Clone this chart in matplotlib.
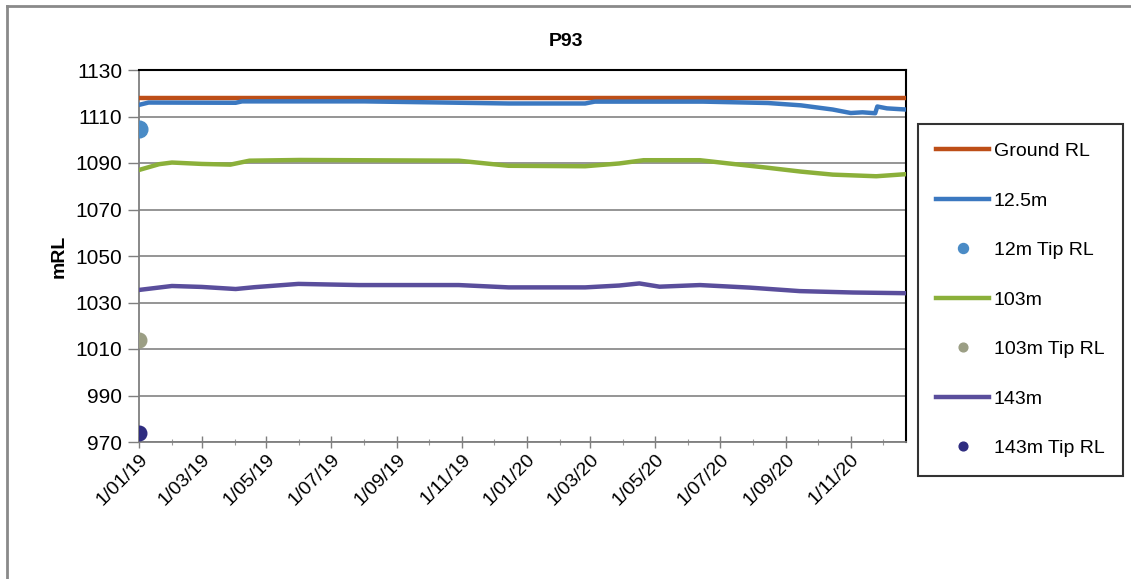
import numpy as np
import pandas as pd
import matplotlib
matplotlib.use("Agg")
import matplotlib.pyplot as plt
import matplotlib.dates as mdates
from matplotlib.lines import Line2D

plt.rcParams['font.family'] = ['Liberation Sans', 'DejaVu Sans']

# water levels (mRL) read at irregular dates
ground_dates = ["2019-01-01", "2020-12-23"]
ground_rl = [1118.0, 1118.0]

p12_dates = ["2019-01-01", "2019-01-10", "2019-04-02", "2019-04-08", "2019-08-01",
             "2019-12-15", "2020-02-25", "2020-03-05", "2020-06-15", "2020-08-15",
             "2020-09-15", "2020-10-15", "2020-11-01", "2020-11-12", "2020-11-24",
             "2020-11-26", "2020-12-05", "2020-12-23"]
p12_rl = [1115.0, 1116.0, 1115.9, 1116.5, 1116.5,
          1115.6, 1115.6, 1116.4, 1116.4, 1115.8,
          1114.8, 1113.0, 1111.5, 1111.8, 1111.4,
          1114.3, 1113.5, 1113.0]

p103_dates = ["2019-01-01", "2019-01-20", "2019-02-01", "2019-03-01", "2019-03-28",
              "2019-04-15", "2019-06-01", "2019-10-29", "2019-12-15", "2020-02-25",
              "2020-03-28", "2020-04-20", "2020-06-12", "2020-07-15", "2020-08-14",
              "2020-09-15", "2020-10-15", "2020-11-25", "2020-12-23"]
p103_rl = [1087.0, 1089.5, 1090.2, 1089.6, 1089.3,
           1091.0, 1091.3, 1091.0, 1088.8, 1088.6,
           1089.8, 1091.2, 1091.2, 1089.5, 1088.0,
           1086.3, 1085.0, 1084.3, 1085.2]

p143_dates = ["2019-01-01", "2019-02-01", "2019-03-01", "2019-04-02", "2019-04-20",
              "2019-05-31", "2019-07-27", "2019-10-29", "2019-12-15", "2020-02-25",
              "2020-03-28", "2020-04-16", "2020-05-05", "2020-06-12", "2020-07-29",
              "2020-09-14", "2020-11-03", "2020-12-23"]
p143_rl = [1035.4, 1037.1, 1036.7, 1035.8, 1036.6,
           1038.0, 1037.5, 1037.5, 1036.5, 1036.5,
           1037.3, 1038.2, 1036.8, 1037.5, 1036.4,
           1034.9, 1034.3, 1034.0]

tip_date = "2019-01-01"
tip12_rl = 1104.5
tip103_rl = 1014.0
tip143_rl = 974.0

x_start, x_end = "2019-01-01", "2020-12-23"

fig = plt.figure(figsize=(11.31, 5.79), dpi=100)
ax = fig.add_axes([139/1131, 1 - 442/579, (906-139)/1131, (442-70)/579])

td = pd.to_datetime
lw = 3.2
ax.plot(td(ground_dates), ground_rl, color='#bd4e17', lw=lw, label='Ground RL', zorder=3)
ax.plot(td(p12_dates), p12_rl, color='#3b78c0', lw=lw, label='12.5m', zorder=4)
ax.plot(td([tip_date]), [tip12_rl], 'o', color='#4a8bc6', ms=12, label='12m Tip RL', zorder=5)
ax.plot(td(p103_dates), p103_rl, color='#8bb03a', lw=lw, label='103m', zorder=4)
ax.plot(td([tip_date]), [tip103_rl], 'o', color='#9b9e84', ms=10.5, label='103m Tip RL', zorder=5)
ax.plot(td(p143_dates), p143_rl, color='#5a4e9c', lw=lw, label='143m', zorder=4)
ax.plot(td([tip_date]), [tip143_rl], 'o', color='#2e2c80', ms=10.5, label='143m Tip RL', zorder=5)

ax.set_xlim(td(x_start), td(x_end))
ax.set_ylim(970, 1130)
ax.set_yticks(np.arange(970, 1131, 20))
ax.grid(axis='y', color='#8c8c8c', lw=1.3, zorder=1)
ax.set_axisbelow(True)

ax.xaxis.set_major_locator(mdates.MonthLocator(bymonth=[1, 3, 5, 7, 9, 11]))
ax.xaxis.set_minor_locator(mdates.MonthLocator())
ax.xaxis.set_major_formatter(
    plt.FuncFormatter(lambda v, p: "1/" + mdates.num2date(v).strftime("%m/%y")))

ax.tick_params(axis='x', which='major', direction='inout', length=9, width=1,
               color='#7f7f7f', labelsize=14, pad=2)
ax.tick_params(axis='x', which='minor', direction='inout', length=5, width=0.8,
               color='#9a9a9a')
ax.tick_params(axis='y', direction='out', length=8, width=1, color='#7f7f7f',
               labelsize=15, pad=4)
for lab in ax.get_xticklabels():
    lab.set_rotation(45)
    lab.set_ha('right')
    lab.set_rotation_mode('anchor')

ax.spines['left'].set_color('#7f7f7f')
ax.spines['bottom'].set_color('#7f7f7f')
ax.spines['left'].set_linewidth(1.3)
ax.spines['bottom'].set_linewidth(1.3)
ax.spines['top'].set_color('black')
ax.spines['right'].set_color('black')
ax.spines['top'].set_linewidth(1.5)
ax.spines['right'].set_linewidth(1.5)

ax.set_ylabel("mRL", fontsize=14, fontweight='bold', labelpad=6)
fig.text(0.5, 1 - 41/579, "P93", fontsize=14, fontweight='bold', ha='center', va='center')

leg = fig.legend(loc='upper left', bbox_to_anchor=(918/1131, 1 - 124/579),
                 fontsize=14, frameon=True, fancybox=False, edgecolor='black',
                 labelspacing=1.64, handlelength=2.7, handletextpad=0.25,
                 borderpad=0.95, markerscale=0.6, borderaxespad=0)
leg.get_frame().set_linewidth(1.5)

# outer chart border
fig.add_artist(Line2D([7/1131, 1], [1 - 6/579, 1 - 6/579], color='#8a8a8a', lw=2,
                      transform=fig.transFigure))
fig.add_artist(Line2D([7/1131, 7/1131], [0, 1 - 6/579], color='#8a8a8a', lw=2,
                      transform=fig.transFigure))

fig.savefig("out.png", dpi=100)
